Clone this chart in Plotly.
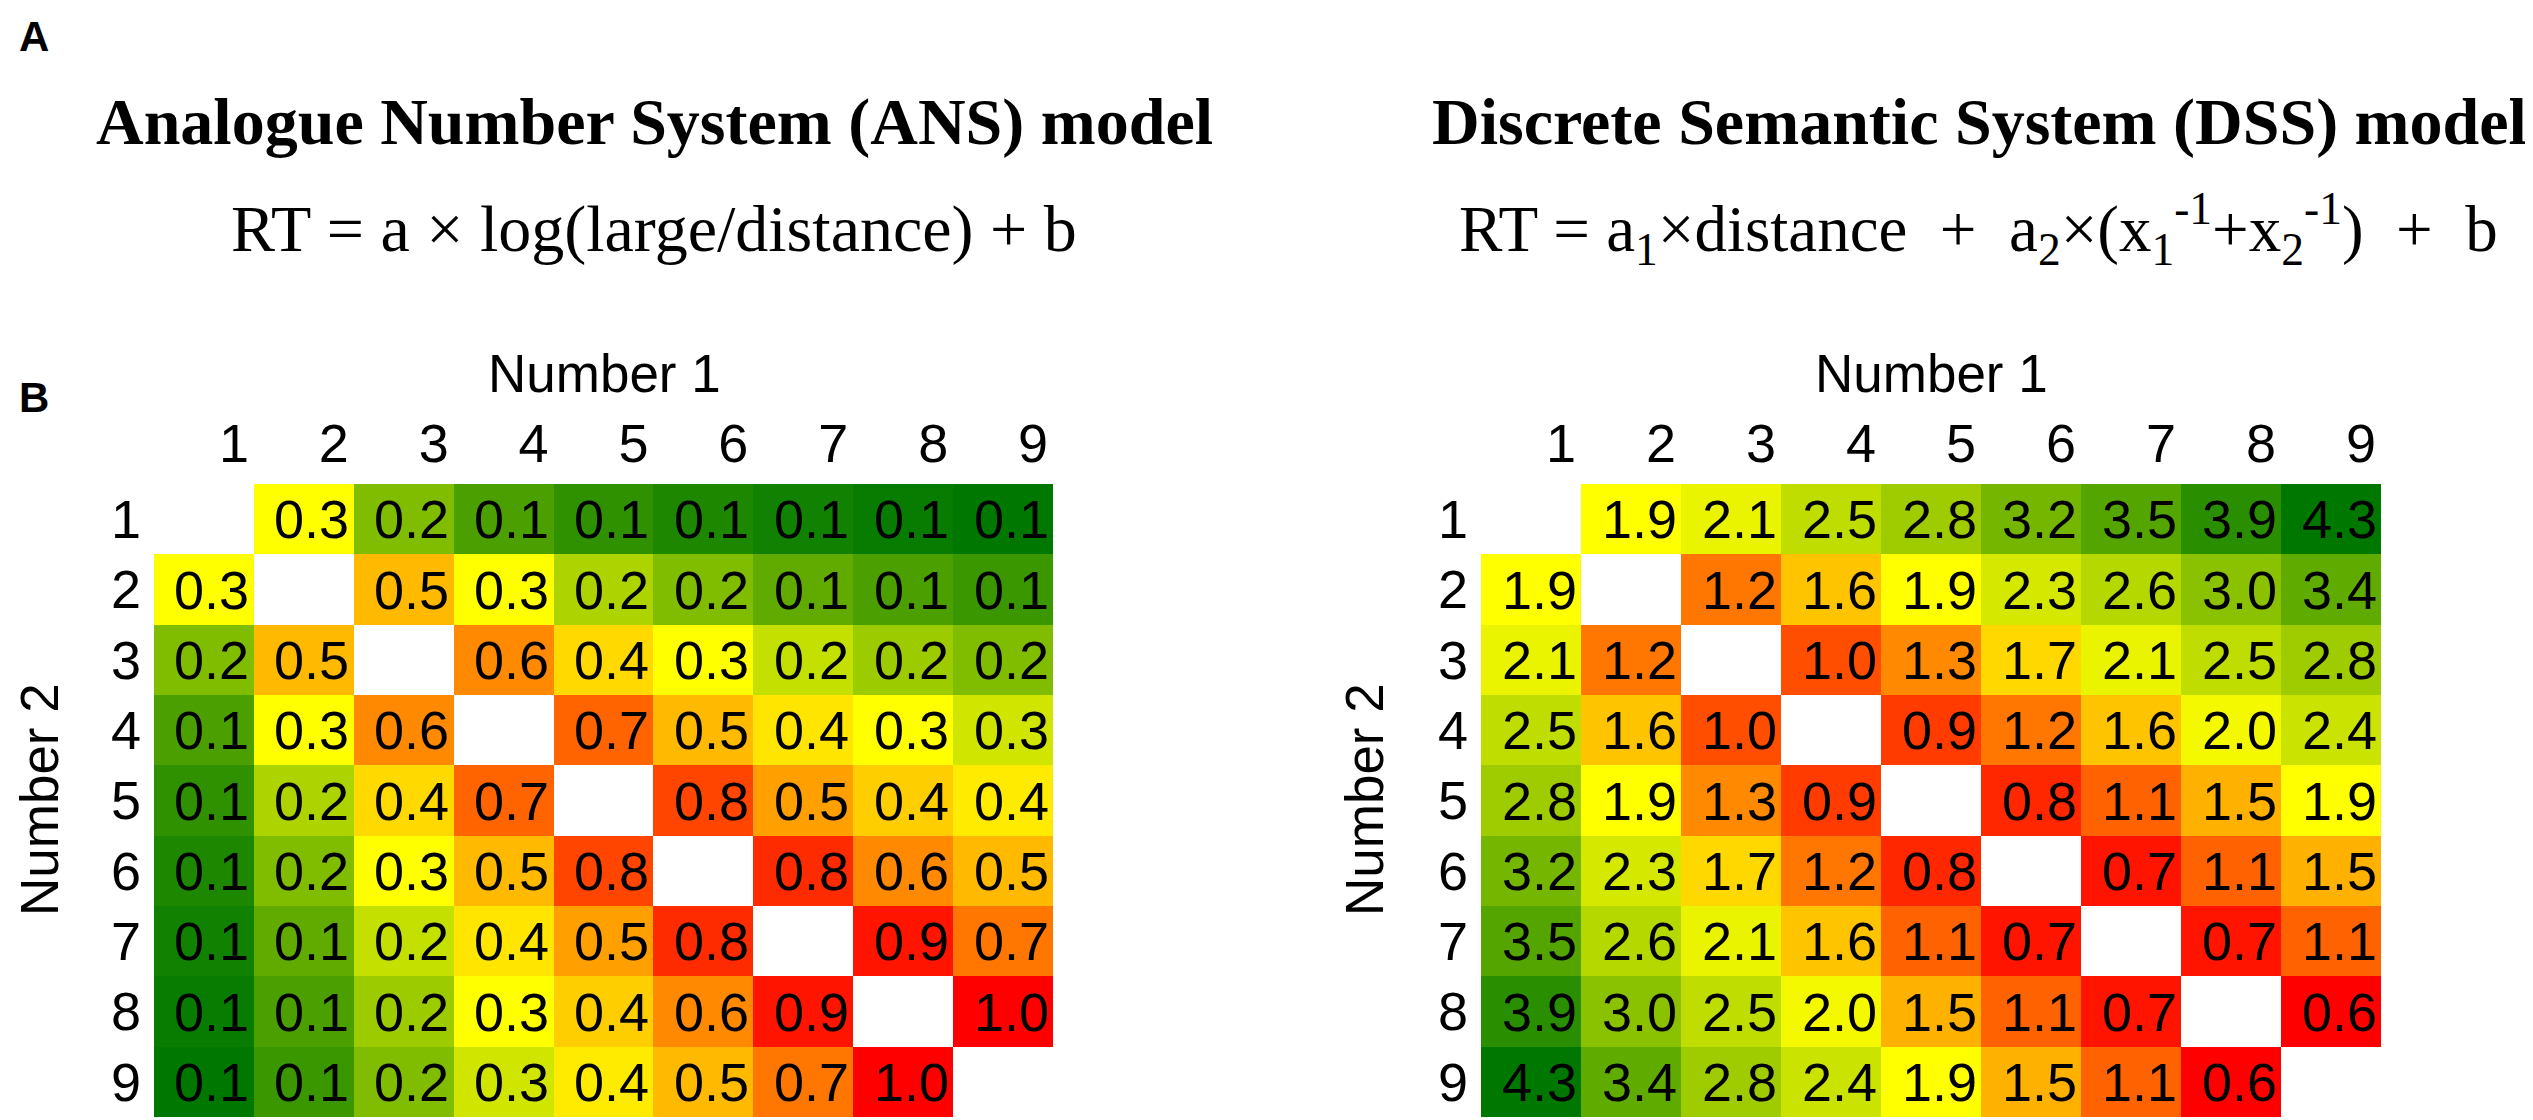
import numpy as np
import plotly.graph_objects as go

W, H = 2533, 1120

numbers = [1, 2, 3, 4, 5, 6, 7, 8, 9]
tick_labels = [str(n) for n in numbers]

# ANS model, predicted RT effect (rows = Number 2, cols = Number 1)
ans_values = [
    [None, 0.301, 0.176, 0.125, 0.097, 0.079, 0.067, 0.058, 0.051],
    [0.301, None, 0.477, 0.301, 0.222, 0.176, 0.146, 0.125, 0.109],
    [0.176, 0.477, None, 0.602, 0.398, 0.301, 0.243, 0.204, 0.176],
    [0.125, 0.301, 0.602, None, 0.699, 0.477, 0.368, 0.301, 0.255],
    [0.097, 0.222, 0.398, 0.699, None, 0.778, 0.544, 0.426, 0.352],
    [0.079, 0.176, 0.301, 0.477, 0.778, None, 0.845, 0.602, 0.477],
    [0.067, 0.146, 0.243, 0.368, 0.544, 0.845, None, 0.903, 0.653],
    [0.058, 0.125, 0.204, 0.301, 0.426, 0.602, 0.903, None, 0.954],
    [0.051, 0.109, 0.176, 0.255, 0.352, 0.477, 0.653, 0.954, None],
]

# DSS model
dss_values = [
    [None, 1.9, 2.1, 2.5, 2.8, 3.2, 3.5, 3.9, 4.3],
    [1.9, None, 1.2, 1.6, 1.9, 2.3, 2.6, 3.0, 3.4],
    [2.1, 1.2, None, 1.0, 1.3, 1.7, 2.1, 2.5, 2.8],
    [2.5, 1.6, 1.0, None, 0.9, 1.2, 1.6, 2.0, 2.4],
    [2.8, 1.9, 1.3, 0.9, None, 0.8, 1.1, 1.5, 1.9],
    [3.2, 2.3, 1.7, 1.2, 0.8, None, 0.7, 1.1, 1.5],
    [3.5, 2.6, 2.1, 1.6, 1.1, 0.7, None, 0.7, 1.1],
    [3.9, 3.0, 2.5, 2.0, 1.5, 1.1, 0.7, None, 0.6],
    [4.3, 3.4, 2.8, 2.4, 1.9, 1.5, 1.1, 0.6, None],
]

GREEN = "rgb(0,120,0)"
YELLOW = "rgb(255,255,0)"
RED = "rgb(255,0,0)"
SANS = "Liberation Sans"
SERIF = "Liberation Serif"


def three_colour_scale(values, low, high):
    # excel style: min / median / max
    z = np.array(values, dtype=float)
    vals = z[~np.isnan(z)]
    lo, hi, med = vals.min(), vals.max(), np.median(vals)
    mid = (med - lo) / (hi - lo)
    return [[0, low], [mid, YELLOW], [1, high]], lo, hi


def px(x):
    return x / W


def py(y):
    return 1 - y / H


fig = go.Figure()

for values, low, high, xa, ya in [
    (ans_values, GREEN, RED, "x", "y"),
    (dss_values, RED, GREEN, "x2", "y2"),
]:
    scale, lo, hi = three_colour_scale(values, low, high)
    fig.add_trace(go.Heatmap(
        z=values, x=numbers, y=numbers,
        colorscale=scale, zmin=lo, zmax=hi, showscale=False,
        hoverinfo="skip", xaxis=xa, yaxis=ya,
    ))
    # cell labels
    for r, row in zip(numbers, values):
        for c, v in zip(numbers, row):
            if v is None:
                continue
            fig.add_annotation(text=f"{v:.1f}", x=c, y=r, xref=xa, yref=ya,
                               xshift=8, showarrow=False,
                               font=dict(family=SANS, size=54, color="black"))

axis_common = dict(
    tickvals=numbers, ticktext=tick_labels, ticks="", showgrid=False,
    zeroline=False, showline=False, tickfont=dict(family=SANS, size=54, color="black"),
)

fig.update_layout(
    width=W, height=H,
    margin=dict(l=0, r=0, t=0, b=0),
    paper_bgcolor="white", plot_bgcolor="white",
    xaxis=dict(domain=[px(146), px(1045)], range=[0.5, 9.5], side="top",
               anchor="y", ticklabelshift=30, ticklabelstandoff=10, **axis_common),
    yaxis=dict(domain=[py(1109), py(476)], range=[9.5, 0.5], anchor="x",
               ticklabelstandoff=12, **axis_common),
    xaxis2=dict(domain=[px(1473), px(2373)], range=[0.5, 9.5], side="top",
                anchor="y2", ticklabelshift=30, ticklabelstandoff=10, **axis_common),
    yaxis2=dict(domain=[py(1109), py(476)], range=[9.5, 0.5], anchor="x2",
                ticklabelstandoff=12, **axis_common),
)

nb = "\u00a0"
texts = [
    ("<b>A</b>", 26, 28, SANS, 42),
    ("<b>B</b>", 26, 389, SANS, 42),
    ("<b>Analogue Number System (ANS) model</b>", 646, 114, SERIF, 66),
    ("RT = a × log(large/distance) + b", 646, 221, SERIF, 66),
    ("<b>Discrete Semantic System (DSS) model</b>", 1971, 114, SERIF, 66),
    ("RT = a<sub>1</sub>×distance" + nb * 2 + "+" + nb * 2 + "a<sub>2</sub>×(x<sub>1</sub><sup>-1</sup>"
     "+x<sub>2</sub><sup>-1</sup>)" + nb * 2 + "+" + nb * 2 + "b", 1970, 221, SERIF, 65),
    ("Number 1", 596, 366, SANS, 53),
    ("Number 1", 1923, 366, SANS, 53),
]
for text, x, y, family, size in texts:
    fig.add_annotation(text=text, x=px(x), y=py(y), xref="paper", yref="paper",
                       xanchor="center", yanchor="middle", showarrow=False,
                       font=dict(family=family, size=size, color="black"))

for x in [31, 1356]:
    fig.add_annotation(text="Number 2", x=px(x), y=py(792), xref="paper", yref="paper",
                       xanchor="center", yanchor="middle", showarrow=False, textangle=-90,
                       font=dict(family=SANS, size=53, color="black"))

fig.write_html("out.html")
